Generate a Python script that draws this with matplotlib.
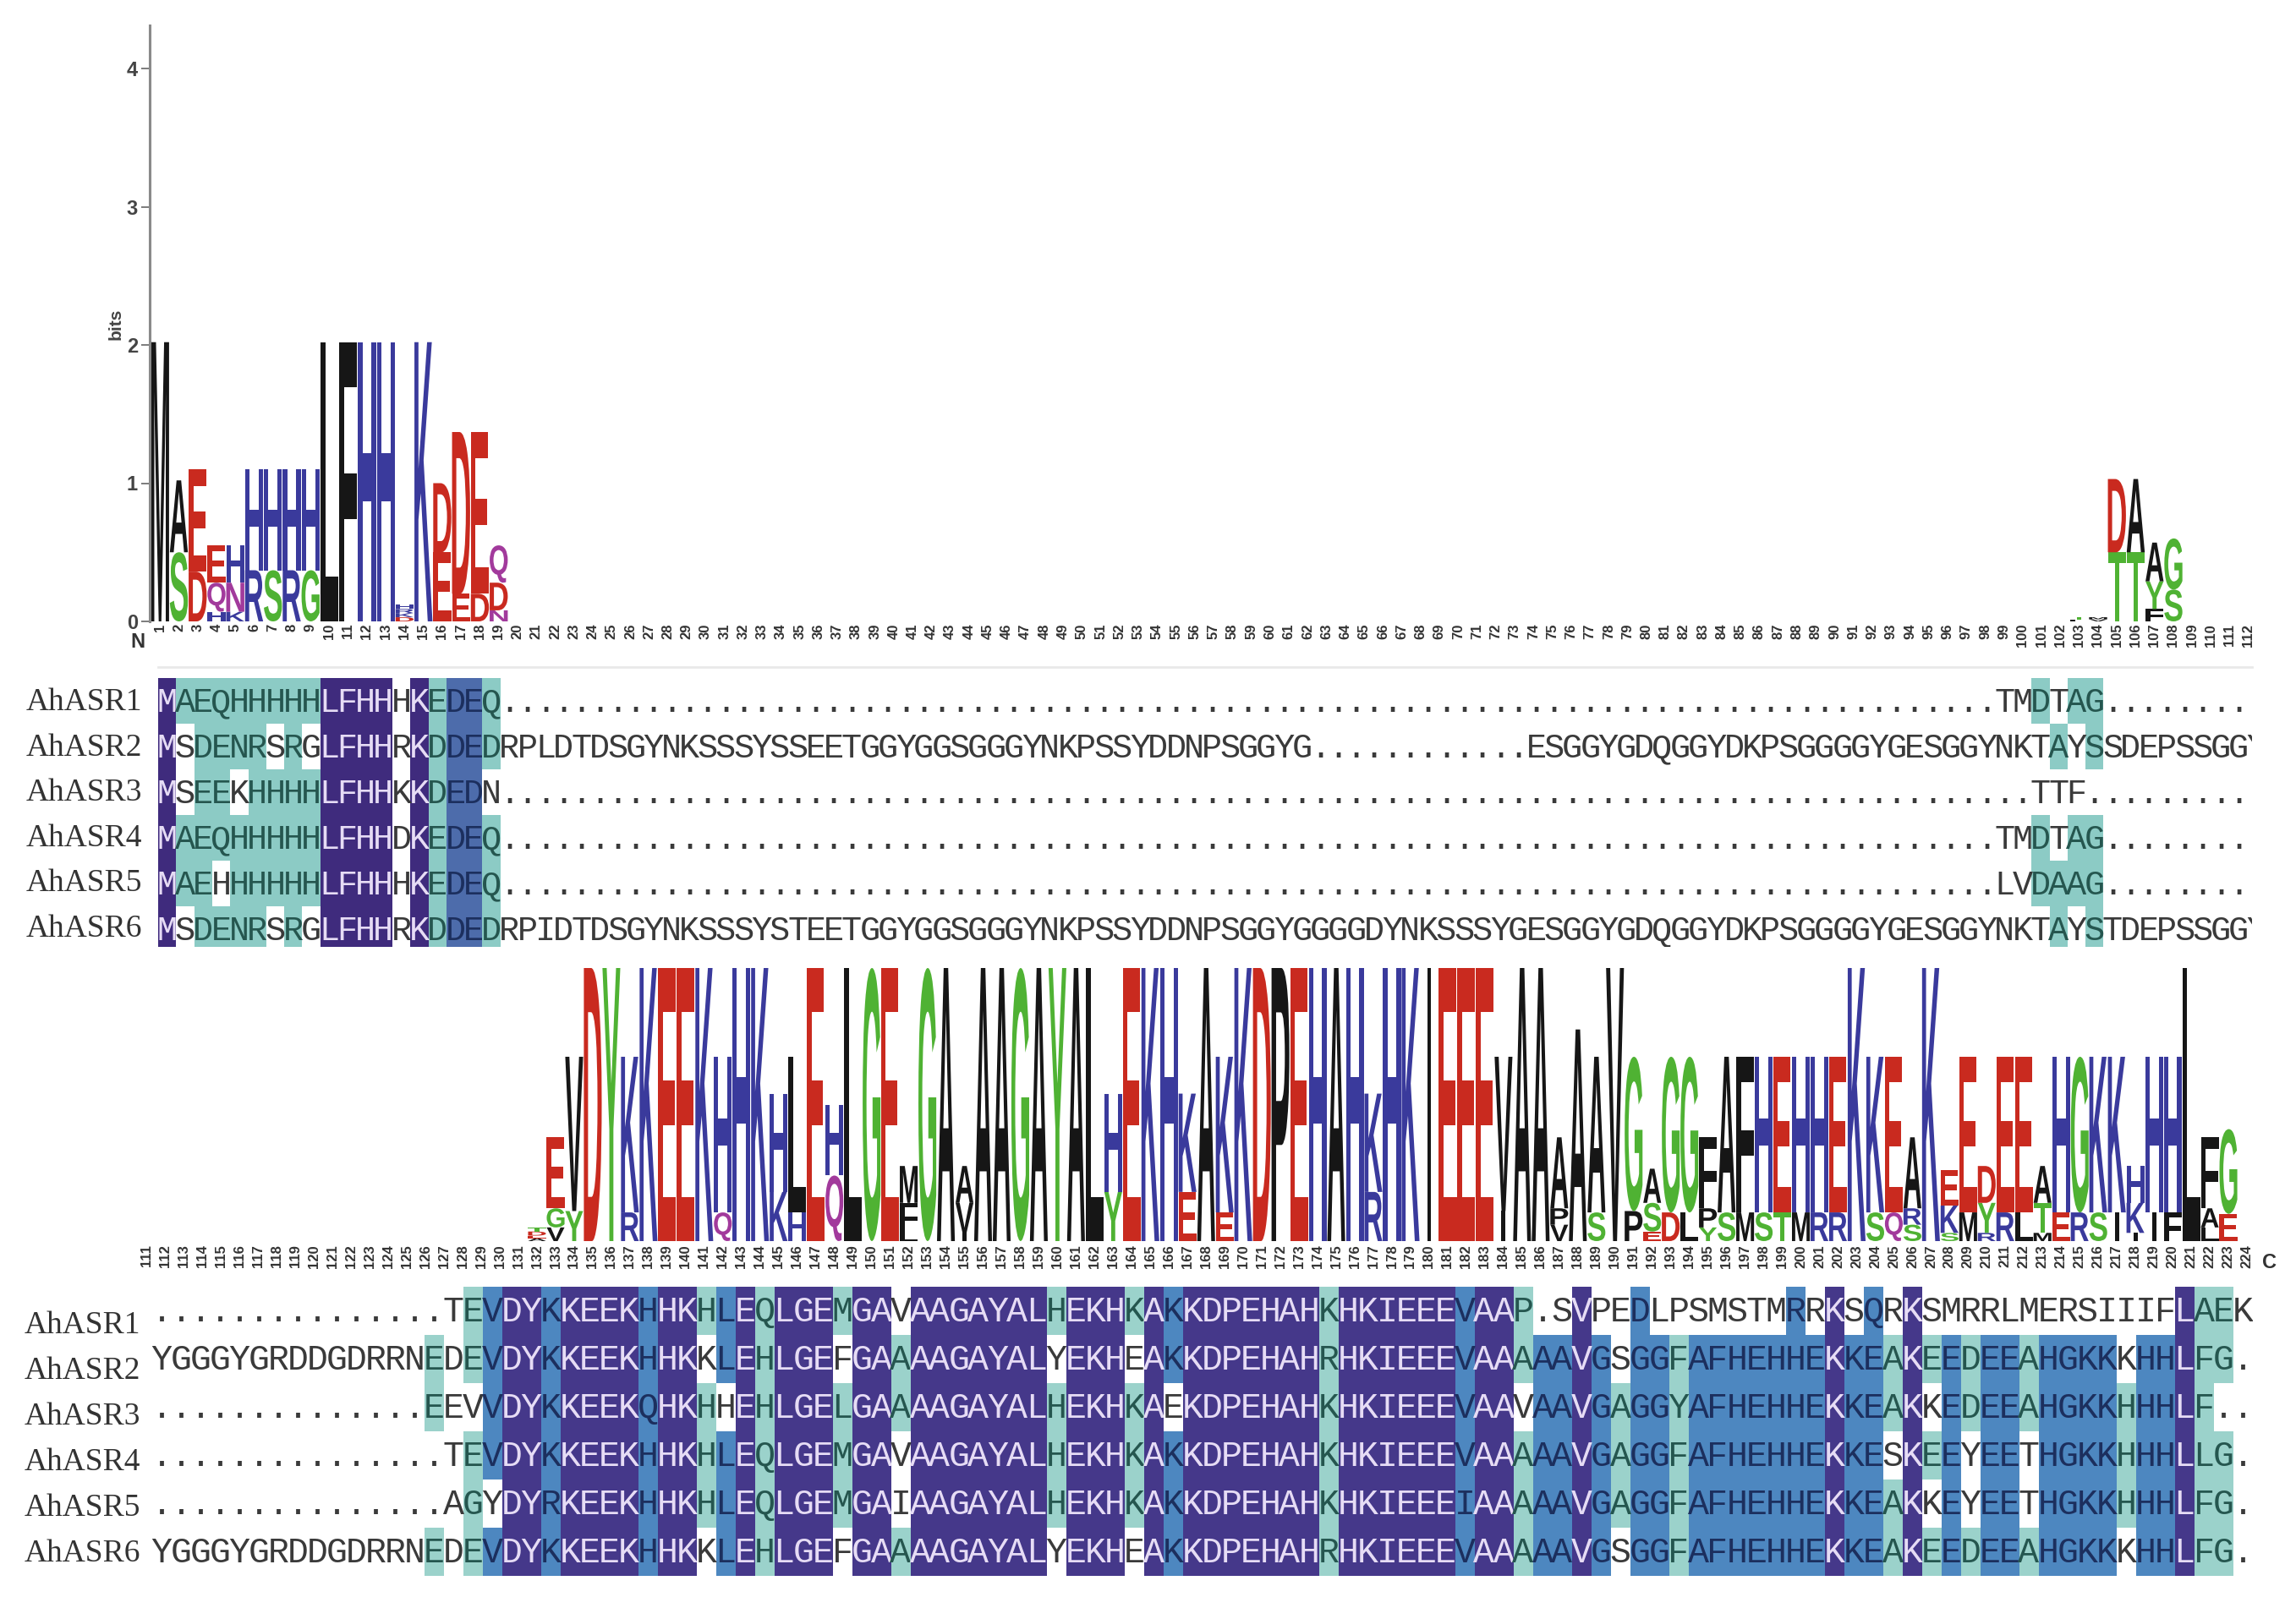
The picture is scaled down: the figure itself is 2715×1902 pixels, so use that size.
#!/usr/bin/env python3
# sequence logo + alignment shading for AhASR1-6
import matplotlib
matplotlib.use("Agg")
import matplotlib.pyplot as plt
from matplotlib.font_manager import FontProperties
from matplotlib.lines import Line2D
from matplotlib.patches import PathPatch
from matplotlib.textpath import TextPath
from matplotlib.transforms import Affine2D

W, H = 2715, 1902

# logo stacks: column -> "letter+bits" listed bottom to top
logo_top = {
    1: "M2.02", 2: "S.5 A.52", 3: "D.36 E.74", 4: "H.07 Q.21 E.27", 5: "K.07 N.21 H.27",
    6: "R.37 H.73", 7: "S.37 H.73", 8: "R.37 H.73", 9: "G.37 H.73", 10: "L2.02",
    11: "F2.02", 12: "H2.02", 13: "H2.02", 14: "D.03 K.03 R.03 H.03", 15: "K2.02",
    16: "E.5 D.5", 17: "E.2 D1.17", 18: "D.2 E1.17", 19: "N.08 D.2 Q.27",
    103: "L.015 T.015", 104: "V.015 M.015", 105: "T.5 D.53", 106: "T.5 A.53",
    107: "F.09 Y.2 A.28", 108: "S.23 G.37",
}
logo_bottom = {
    132: "A.02 E.02 D.03 T.03", 133: "V.1 G.14 E.52", 134: "Y.22 V1.13", 135: "D2", 136: "Y2",
    137: "R.21 K1.14", 138: "K2", 139: "E2", 140: "E2", 141: "K2", 142: "Q.21 H1.14",
    143: "H2", 144: "K2", 145: "K.36 H.72", 146: "H.21 L1.14", 147: "E2", 148: "Q.48 H.52",
    149: "L2", 150: "G2", 151: "E2", 152: "L.07 F.21 M.27", 153: "G2", 154: "A2",
    155: "I.06 V.22 A.27", 156: "A2", 157: "A2", 158: "G2", 159: "A2", 160: "Y2", 161: "A2",
    162: "L2", 163: "Y.36 H.72", 164: "E2", 165: "K2", 166: "H2", 167: "E.36 K.72",
    168: "A2", 169: "E.21 K1.14", 170: "K2", 171: "D2", 172: "P2", 173: "E2", 174: "H2",
    175: "A2", 176: "H2", 177: "R.36 K.72", 178: "H2", 179: "K2", 180: "I2", 181: "E2",
    182: "E2", 183: "E2", 184: "I.22 V1.13", 185: "A2", 186: "A2", 187: "V.12 P.12 A.52",
    188: "A1.55", 189: "S.21 A1.14", 190: "V2", 191: "P.22 G1.13", 192: "E.07 S.21 A.25",
    193: "D.21 G1.14", 194: "L.21 G1.14", 195: "Y.1 P.14 F.52", 196: "S.21 A1.14",
    197: "M.21 F1.14", 198: "S.21 H1.14", 199: "T.21 E1.14", 200: "M.21 H1.14",
    201: "R.21 H1.14", 202: "R.21 E1.14", 203: "K2", 204: "S.21 K1.14", 205: "Q.21 E1.14",
    206: "S.12 R.12 A.52", 207: "K2", 208: "S.06 K.2 E.26", 209: "M.21 E1.14",
    210: "R.06 Y.22 D.27", 211: "R.21 E1.14", 212: "L.21 E1.14", 213: "M.06 T.22 A.27",
    214: "E.21 H1.14", 215: "R.21 G1.14", 216: "S.21 K1.14", 217: "I.21 K1.14",
    218: "I.06 K.22 H.27", 219: "I.21 H1.14", 220: "F.21 H1.14", 221: "L2",
    222: "L.1 A.14 F.52", 223: "E.2 G.62",
}

seq_names = ["AhASR1", "AhASR2", "AhASR3", "AhASR4", "AhASR5", "AhASR6"]
y_ticks = [0, 1, 2, 3, 4]

seqs_upper = [
    "MAEQHHHHHLFHHHKEDEQ" + "." * 83 + "TMDTAG" + "." * 8,
    "MSDENRSRGLFHHRKDDEDRPLDTDSGYNKSSSYSSEETGGYGGSGGGYNKPSSYDDNPSGGYG" + "." * 12
    + "ESGGYGDQGGYDKPSGGGGYGESGGYNKTAYSSDEPSSGGY",
    "MSEEKHHHHLFHHKKDEDN" + "." * 85 + "TTF" + "." * 9,
    "MAEQHHHHHLFHHDKEDEQ" + "." * 83 + "TMDTAG" + "." * 8,
    "MAEHHHHHHLFHHHKEDEQ" + "." * 83 + "LVDAAG" + "." * 8,
    "MSDENRSRGLFHHRKDDEDRPIDTDSGYNKSSSYSTEETGGYGGSGGGYNKPSSYDDNPSGGY"
    "GGGGDYNKSSSYGESGGYGDQGGYDKPSGGGGYGESGGYNKTAYSTDEPSSGGY",
]
seqs_lower = [
    "." * 15 + "TEVDYKKEEKHHKHLEQLGEMGAVAAGAYALHEKHKAKKDPEHAHKHKIEEEVAAP.SVPEDLPSMSTMRRKSQRKSMRRLMERSIIIFLAEK",
    "YGGGYGRDDGDRRNEDEVDYKKEEKHHKKLEHLGEFGAAAAGAYALYEKHEAKKDPEHAHRHKIEEEVAAAAAVGSGGFAFHEHHEKKEAKEEDEEAHGKKKHHLFG.",
    "." * 14 + "EEVVDYKKEEKQHKHHEHLGELGAAAAGAYALHEKHKAEKDPEHAHKHKIEEEVAAVAAVGAGGYAFHEHHEKKEAKKEDEEAHGKKHHHLF..",
    "." * 15 + "TEVDYKKEEKHHKHLEQLGEMGAVAAGAYALHEKHKAKKDPEHAHKHKIEEEVAAAAAVGAGGFAFHEHHEKKESKEEYEETHGKKHHHLLG.",
    "." * 15 + "AGYDYRKEEKHHKHLEQLGEMGAIAAGAYALHEKHKAKKDPEHAHKHKIEEEIAAAAAVGAGGFAFHEHHEKKEAKKEYEETHGKKHHHLFG.",
    "YGGGYGRDDGDRRNEDEVDYKKEEKHHKKLEHLGEFGAAAAGAYALYEKHEAKKDPEHAHRHKIEEEVAAAAAVGSGGFAFHEHHEKKEAKEEDEEAHGKKKHHLFG.",
]

# conservation shade of each column as (run length, one code per sequence)
# d = 100 %, b = high, t = medium, - = none
shade_upper = [
    (1, "dddddd"), (1, "t--tt-"), (1, "tttttt"), (1, "tttt-t"), (1, "tt-ttt"), (1, "tttttt"),
    (1, "t-ttt-"), (1, "tttttt"), (1, "t-ttt-"), (4, "dddddd"), (1, "------"), (1, "dddddd"),
    (1, "tttttt"), (2, "bbbbbb"), (1, "tt-ttt"), (85, "------"), (1, "t--tt-"), (1, "-t--tt"),
    (1, "t--tt-"), (1, "tt-ttt"), (9, "------"),
]
shade_lower = [
    (14, "------"), (1, "-tt--t"), (1, "------"), (1, "tt-ttt"), (1, "bbbb-b"), (2, "dddddd"),
    (1, "bbbbbb"), (4, "dddddd"), (1, "bbbbbb"), (2, "dddddd"), (1, "t-ttt-"), (1, "bb-bbb"),
    (1, "dddddd"), (1, "tttttt"), (3, "dddddd"), (1, "t-ttt-"), (2, "dddddd"), (1, "-tt--t"),
    (7, "dddddd"), (1, "t-ttt-"), (3, "dddddd"), (1, "t-ttt-"), (1, "dddddd"), (1, "bb-bbb"),
    (7, "dddddd"), (1, "tttttt"), (6, "dddddd"), (1, "bbbbbb"), (2, "dddddd"), (1, "tt-ttt"),
    (2, "-bbbbb"), (1, "dddddd"), (1, "-bbbbb"), (1, "--ttt-"), (1, "bbbbbb"), (1, "-bbbbb"),
    (1, "-ttttt"), (5, "-bbbbb"), (1, "bbbbbb"), (1, "-bbbbb"), (1, "dddddd"), (1, "-bbbbb"),
    (1, "bbbbbb"), (1, "-tt-tt"), (1, "dddddd"), (1, "-t-t-t"), (1, "-bbbbb"), (1, "-tt--t"),
    (2, "-bbbbb"), (1, "-tt--t"), (4, "-bbbbb"), (1, "--ttt-"), (2, "-bbbbb"), (1, "dddddd"),
    (1, "tttttt"), (1, "tt-ttt"), (1, "------"),
]

LETTER_COLORS = {}
for group, col in (("AVLIPMFW", "#161616"), ("STGYC", "#4fb233"), ("KRH", "#3a3a9c"),
                   ("DE", "#c92a1f"), ("QN", "#a23a9c")):
    for ch in group:
        LETTER_COLORS[ch] = col

UPPER_FILL = {"d": "#3f2b7d", "b": "#4d6cab", "t": "#8ccbc5"}
LOWER_FILL = {"d": "#45388a", "b": "#4d87c0", "t": "#9bd2cb"}
TEXT_ON = {"d": "#e6dcf5", "b": "#1c2f5e", "t": "#25564f", "-": "#3a3a3a"}

LOGO_FONT = FontProperties(family="Liberation Sans", weight="bold")
MONO = "Liberation Mono"


def px_axes(fig, left, top, right, bottom):
    return fig.add_axes([left / W, 1 - bottom / H, (right - left) / W, (bottom - top) / H])


def parse_stack(spec):
    return [(item[0], float(item[1:])) for item in spec.split()]


def draw_logo(ax, stacks):
    for col, spec in stacks.items():
        y = 0.0
        for letter, bits in parse_stack(spec):
            tp = TextPath((0, 0), letter, size=1, prop=LOGO_FONT)
            box = tp.get_extents()
            # I keeps its narrow stroke, everything else fills the column
            w = 0.22 if letter == "I" else 0.96
            tr = (Affine2D().translate(-box.x0, -box.y0)
                  .scale(w / box.width, bits / box.height)
                  .translate(col - w / 2, y))
            ax.add_patch(PathPatch(tr.transform_path(tp), fc=LETTER_COLORS[letter], lw=0))
            y += bits


def expand_shade(runs):
    cols = []
    for n, codes in runs:
        cols += [codes] * n
    return cols


def draw_alignment(ax, seqs, runs, fills, fontsize, baseline):
    shade = expand_shade(runs)
    for code, color in fills.items():
        xs, ys = [], []
        for c, codes in enumerate(shade, start=1):
            for r, v in enumerate(codes):
                if v == code:
                    xs.append(c)
                    ys.append(r)
        ax.bar(xs, 1, bottom=ys, width=1, color=color, linewidth=0, zorder=1)
    for r, seq in enumerate(seqs):
        for c, ch in enumerate(seq, start=1):
            code = shade[c - 1][r]
            ax.text(c, r + baseline, ch, family=MONO, fontsize=fontsize, ha="center",
                    va="baseline", color=TEXT_ON[code], clip_on=True, zorder=3)
    ax.axis("off")


fig = plt.figure(figsize=(W / 100, H / 100), dpi=100, facecolor="white")

# upper logo
ax = px_axes(fig, 177, 30, 2669, 735)
ax.set_xlim(0.45, 112.45)
ax.set_ylim(0, 705 / 163.5)
draw_logo(ax, logo_top)
for s in ("top", "right", "bottom"):
    ax.spines[s].set_visible(False)
ax.spines["left"].set_color("#8a8a8a")
ax.spines["left"].set_linewidth(2.2)
ax.set_yticks(y_ticks)
ax.set_yticklabels([str(v) for v in y_ticks], fontsize=17, fontweight="bold", color="#444444",
                   family="Liberation Sans")
ax.tick_params(axis="y", length=7, width=1.2, color="#666666", pad=3)
ax.set_xticks(range(1, 113))
ax.set_xticklabels([str(i) for i in range(1, 113)], rotation=90, fontsize=12, fontweight="bold",
                   color="#333333", family="Liberation Sans")
ax.tick_params(axis="x", length=0, pad=2)
ax.set_facecolor("none")

# lower logo
ax2 = px_axes(fig, 162.5, 1145, 2668, 1468)
ax2.set_xlim(110.5, 224.5)
ax2.set_ylim(0, 2)
draw_logo(ax2, logo_bottom)
for s in ax2.spines.values():
    s.set_visible(False)
ax2.set_yticks([])
ax2.set_xticks(range(111, 225))
ax2.set_xticklabels([str(i) for i in range(111, 225)], rotation=90, fontsize=12, fontweight="bold",
                    color="#333333", family="Liberation Sans")
ax2.tick_params(axis="x", length=0, pad=3)

# alignments
ax3 = px_axes(fig, 187, 802, 2663, 1120)
ax3.set_xlim(0.5, 0.5 + 2476 / 21.3)
ax3.set_ylim(318 / 54, 0)
draw_alignment(ax3, seqs_upper, shade_upper, UPPER_FILL, 29, 0.74)

ax4 = px_axes(fig, 179.5, 1522, 2663.5, 1864)
ax4.set_xlim(0.5, 108.5)
ax4.set_ylim(6, 0)
draw_alignment(ax4, seqs_lower, shade_lower, LOWER_FILL, 30, 0.72)

# sequence names, baselines do not follow the shaded rows exactly
for i, name in enumerate(seq_names):
    fig.text(31 / W, 1 - (840 + 53.6 * i) / H, name, family="Liberation Serif", fontsize=27,
             color="#333333", va="baseline")
    fig.text(29 / W, 1 - (1577 + 54 * i) / H, name, family="Liberation Serif", fontsize=27,
             color="#333333", va="baseline")

fig.text(163 / W, 1 - 760 / H, "N", family="Liberation Sans", fontweight="bold", fontsize=17,
         color="#333333", ha="center", va="center")
fig.text(2683 / W, 1 - 1493 / H, "C", family="Liberation Sans", fontweight="bold", fontsize=17,
         color="#333333", ha="center", va="center")
fig.text(137 / W, 1 - 383 / H, "bits", family="Liberation Sans", fontweight="bold", fontsize=15,
         color="#444444", rotation=90, ha="center", va="center")
fig.add_artist(Line2D([187 / W, 2663 / W], [1 - 789 / H, 1 - 789 / H], color="#e9e9e9", lw=2))

fig.savefig("out.png", dpi=100)
